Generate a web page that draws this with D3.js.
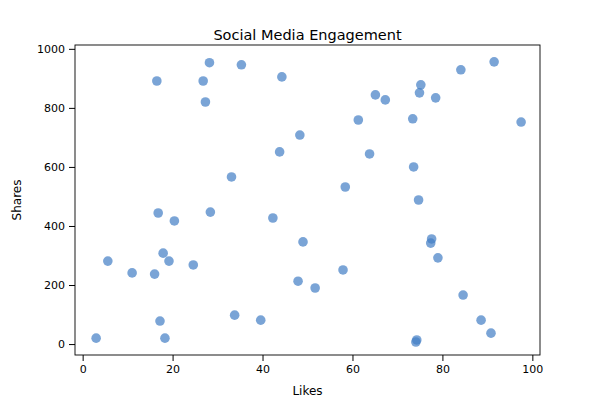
<!DOCTYPE html>
<html>
<head>
<meta charset="utf-8">
<script src="https://cdn.jsdelivr.net/npm/d3@7"></script>
<style>
  body { margin: 0; background: #fff; }
  text { font-family: "DejaVu Sans", sans-serif; }
</style>
</head>
<body>
<svg id="chart" width="600" height="400"></svg>
<script>
// values
var likes = [3, 5.6, 11, 16, 16.5, 16.8, 17.2, 17.9, 18.3, 19.2, 20.4, 24.6, 26.8, 27.3, 28.2, 28.4,
  33.1, 33.8, 35.3, 39.6, 42.3, 43.8, 44.3, 47.9, 48.3, 49, 51.7, 57.9, 58.4, 61.3, 63.8, 65.1,
  67.3, 73.4, 73.6, 74.1, 74.3, 74.7, 74.9, 75.2, 77.4, 77.6, 78.5, 79, 84.1, 84.6, 88.6, 90.8, 91.5, 97.5];
var shares = [20, 281, 241, 237, 891, 444, 78, 308, 20, 281, 417, 268, 891, 820, 953, 447,
  566, 98, 946, 81, 427, 651, 905, 213, 708, 346, 190, 251, 532, 759, 644, 844,
  827, 763, 600, 7, 14, 488, 851, 878, 342, 356, 834, 292, 929, 166, 81, 37, 956, 752];
var xTicks = [0, 20, 40, 60, 80, 100];
var yTicks = [0, 200, 400, 600, 800, 1000];

(function () {
  var svg = d3.select("#chart");
  var mLeft = 75, mRight = 540, mTop = 45, mBottom = 355;

  var x = d3.scaleLinear().domain([-1.7, 101.7]).range([mLeft, mRight]);
  var y = d3.scaleLinear().domain([-37, 1013]).range([mBottom, mTop]);

  svg.append("g")
    .attr("transform", "translate(0," + mBottom + ")")
    .call(d3.axisBottom(x).tickValues(xTicks).tickFormat(d3.format("d")).tickSizeOuter(0).tickPadding(4))
    .call(function (g) { g.select(".domain").remove(); })
    .selectAll("text").attr("font-size", 11).attr("fill", "#000");

  svg.append("g")
    .attr("transform", "translate(" + mLeft + ",0)")
    .call(d3.axisLeft(y).tickValues(yTicks).tickFormat(d3.format("d")).tickSizeOuter(0).tickPadding(4))
    .call(function (g) { g.select(".domain").remove(); })
    .selectAll("text").attr("font-size", 11).attr("fill", "#000");

  svg.selectAll(".tick line").attr("stroke", "#000");

  svg.append("rect")
    .attr("x", mLeft).attr("y", mTop)
    .attr("width", mRight - mLeft).attr("height", mBottom - mTop)
    .attr("fill", "none").attr("stroke", "#000").attr("stroke-width", 0.9);

  svg.selectAll("circle.dot")
    .data(likes)
    .enter()
    .append("circle")
    .attr("class", "dot")
    .attr("cx", function (d) { return x(d); })
    .attr("cy", function (d, i) { return y(shares[i]); })
    .attr("r", 4.8)
    .attr("fill", "rgb(66,125,196)")
    .attr("fill-opacity", 0.7);

  svg.append("text")
    .attr("x", (mLeft + mRight) / 2).attr("y", 40)
    .attr("text-anchor", "middle").attr("font-size", 14.5)
    .text("Social Media Engagement");

  svg.append("text")
    .attr("x", (mLeft + mRight) / 2).attr("y", 395)
    .attr("text-anchor", "middle").attr("font-size", 12)
    .text("Likes");

  svg.append("text")
    .attr("transform", "translate(21," + (mTop + mBottom) / 2 + ") rotate(-90)")
    .attr("text-anchor", "middle").attr("font-size", 12)
    .text("Shares");
})();
</script>
</body>
</html>
